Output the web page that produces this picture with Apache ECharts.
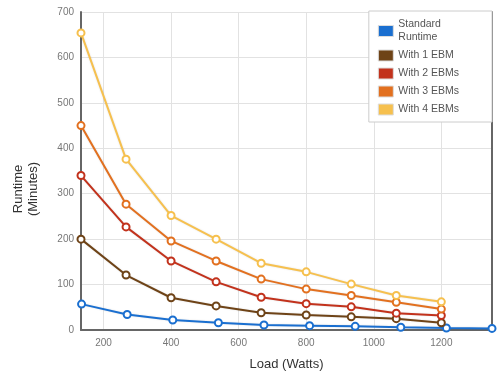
<!DOCTYPE html>
<html>
<head>
<meta charset="utf-8">
<script src="https://cdn.jsdelivr.net/npm/echarts@6/dist/echarts.min.js"></script>
<style>html,body{margin:0;padding:0;background:#fff}#c{width:499px;height:378px}</style>
</head>
<body>
<div id="c"></div>
<script>
// Load values (Watts)
const loadStandard = [135, 270, 405, 540, 675, 810, 945, 1080, 1215, 1350];
const loadEbm = [133.33, 266.67, 400, 533.33, 666.67, 800, 933.33, 1066.67, 1200];
// Runtime values (Minutes)
const standardRuntime = [57, 34, 22, 16, 11, 9.5, 8, 6, 4.5, 3.5];
const with1Ebm = [200, 121, 71, 53, 38, 33, 29, 25, 16];
const with2Ebms = [340, 227, 152, 106, 72, 58, 51, 37, 32];
const with3Ebms = [450, 277, 196, 152, 112, 90, 76, 61, 46];
const with4Ebms = [654, 376, 252, 200, 147, 128, 101, 76, 62];
const seriesNames = ['Standard\nRuntime', 'With 1 EBM', 'With 2 EBMs', 'With 3 EBMs', 'With 4 EBMs'];
const seriesColors = ['#1a6fd0', '#6e4317', '#c2321c', '#e2701f', '#f6c04e'];

function pairs(xs, ys) { return ys.map((y, i) => [xs[i], y]); }

const dataSets = [
  pairs(loadStandard, standardRuntime),
  pairs(loadEbm, with1Ebm),
  pairs(loadEbm, with2Ebms),
  pairs(loadEbm, with3Ebms),
  pairs(loadEbm, with4Ebms)
];

const chart = echarts.init(document.getElementById('c'), null, {renderer: 'canvas'});
const font = 'Arial, "Liberation Sans", sans-serif';

chart.setOption({
  animation: false,
  backgroundColor: '#fff',
  textStyle: {fontFamily: font},
  grid: {left: 81, right: 7, top: 12, bottom: 48, containLabel: false},
  legend: {
    orient: 'vertical',
    right: 7,
    top: 11,
    padding: [7, 33, 6, 9],
    itemGap: 5,
    itemWidth: 15,
    itemHeight: 11,
    backgroundColor: '#fff',
    borderColor: '#cccccc',
    borderWidth: 1,
    borderRadius: 0,
    icon: 'rect',
    textStyle: {color: '#555', fontSize: 10.5, fontFamily: font, lineHeight: 13},
    data: seriesNames.map((n, i) => ({
      name: n,
      itemStyle: {color: seriesColors[i], borderColor: '#dddddd', borderWidth: 1}
    }))
  },
  xAxis: {
    type: 'value',
    min: 133.33,
    max: 1350,
    name: 'Load (Watts)',
    nameLocation: 'middle',
    nameGap: 28,
    nameTextStyle: {color: '#333', fontSize: 13, fontFamily: font},
    axisLine: {show: true, lineStyle: {color: '#666', width: 2}},
    axisTick: {show: false},
    axisLabel: {color: '#777', fontSize: 10, margin: 8, showMinLabel: false, showMaxLabel: false,
      formatter: v => String(v)},
    splitLine: {show: true, lineStyle: {color: '#e2e2e2', width: 1}}
  },
  yAxis: [{
    type: 'value',
    min: 0,
    max: 700,
    interval: 100,
    name: 'Runtime\n(Minutes)',
    nameLocation: 'middle',
    nameGap: 40,
    nameRotate: 90,
    nameTextStyle: {color: '#333', fontSize: 13, fontFamily: font, lineHeight: 15, padding: [0, 36, 0, 0]},
    axisLine: {show: true, lineStyle: {color: '#666', width: 2}},
    axisTick: {show: false},
    axisLabel: {color: '#777', fontSize: 10, margin: 7},
    splitLine: {show: true, lineStyle: {color: '#e2e2e2', width: 1}}
  }, {
    type: 'value',
    min: 0,
    max: 700,
    interval: 100,
    position: 'right',
    axisLine: {show: true, lineStyle: {color: '#666', width: 2}},
    axisTick: {show: false},
    axisLabel: {show: false},
    splitLine: {show: false}
  }],
  series: dataSets.map((d, i) => ({
    name: seriesNames[i],
    type: 'line',
    data: d,
    yAxisIndex: 0,
    symbol: 'circle',
    symbolSize: 7,
    showSymbol: true,
    lineStyle: {color: seriesColors[i], width: 2, shadowColor: 'rgba(0,0,0,0.12)', shadowBlur: 2},
    itemStyle: {color: '#fff', borderColor: seriesColors[i], borderWidth: 2},
    z: 2 + i
  }))
});
</script>
</body>
</html>
